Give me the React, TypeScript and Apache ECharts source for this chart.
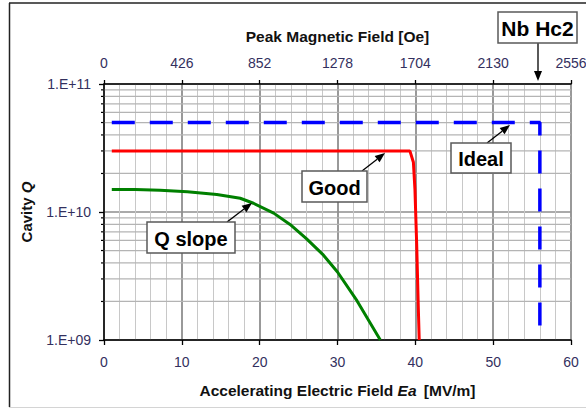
import React, { useEffect, useRef } from "react";
import * as echarts from "echarts";

// ---- data ----
const idealX = [1, 56, 56];
const idealQ = [5e10, 5e10, 1e9];

const goodX = [1, 39.3, 39.75, 39.95, 40.17, 40.38, 40.5];
const goodQ = [3e10, 3e10, 2.45e10, 1.5e10, 5.7e9, 1.8e9, 1e9];

const slopeX = [1, 4, 7.2, 10.7, 14.5, 17.5, 19.2, 21.8, 23.9, 26, 28.2, 30, 32.5, 35.5];
const slopeQ = [1.5e10, 1.5e10, 1.48e10, 1.44e10, 1.37e10, 1.28e10, 1.17e10, 9.8e9, 8.0e9, 6.2e9, 4.6e9, 3.4e9, 2.03e9, 1e9];

const minorQ = [2e9, 3e9, 4e9, 5e9, 6e9, 7e9, 8e9, 9e9, 2e10, 3e10, 4e10, 5e10, 6e10, 7e10, 8e10, 9e10];

const eaMin = 0;
const eaMax = 60;
const eaStep = 10;
const hMin = 0;
const hMax = 2556;
const hStep = 426;
const qMin = 1e9;
const qMax = 1e11;

const FONT = '"Liberation Sans", Arial, sans-serif';

type Ann = { text: string; box: number[]; from: number[]; to: number[]; size: number };
const annotations: Ann[] = [
  { text: "Nb Hc2", box: [498, 12, 79, 31], from: [538, 43], to: [538, 81], size: 21 },
  { text: "Ideal", box: [451, 143, 60, 30], from: [487, 143], to: [510, 125], size: 20 },
  { text: "Good", box: [302, 171, 65, 31], from: [362, 171], to: [385, 153], size: 20 },
  { text: "Q slope", box: [147, 222, 88, 31], from: [227, 222], to: [252, 203], size: 20 },
];

function pairs(xs: number[], ys: number[]) {
  return xs.map((x, i) => [x, ys[i]]);
}

function annGraphics() {
  const els: any[] = [];
  annotations.forEach((a) => {
    const [bx, by, bw, bh] = a.box;
    const [x1, y1] = a.from;
    const [x2, y2] = a.to;
    const dx = x2 - x1;
    const dy = y2 - y1;
    const len = Math.sqrt(dx * dx + dy * dy);
    const ux = dx / len;
    const uy = dy / len;
    const hl = 10;
    const hw = 4;
    const bxp = x2 - ux * hl;
    const byp = y2 - uy * hl;
    els.push({
      type: "line",
      z: 100,
      shape: { x1, y1, x2: bxp, y2: byp },
      style: { stroke: "#000", lineWidth: 1.3 },
    });
    els.push({
      type: "polygon",
      z: 100,
      shape: {
        points: [
          [x2, y2],
          [bxp - uy * hw, byp + ux * hw],
          [bxp + uy * hw, byp - ux * hw],
        ],
      },
      style: { fill: "#000" },
    });
    els.push({
      type: "rect",
      z: 101,
      shape: { x: bx, y: by, width: bw, height: bh },
      style: { fill: "#fff", stroke: "#5a5a5a", lineWidth: 1.5 },
    });
    els.push({
      type: "text",
      z: 102,
      style: {
        text: a.text,
        x: bx + bw / 2,
        y: by + bh / 2 + 1,
        align: "center",
        verticalAlign: "middle",
        fontSize: a.size,
        fontWeight: "bold",
        fontFamily: FONT,
        fill: "#000",
      },
    });
  });
  return els;
}

export default function App() {
  const ref = useRef<HTMLDivElement>(null);

  useEffect(() => {
    if (!ref.current) return;
    const chart = echarts.init(ref.current, null, { renderer: "svg" });
    const labelColor = "#33305e";
    const option: any = {
      animation: false,
      backgroundColor: "#fff",
      grid: {
        left: 104,
        top: 84,
        width: 467,
        height: 256,
        containLabel: false,
        outerBoundsMode: "none",
      },
      xAxis: [
        {
          type: "value",
          position: "bottom",
          min: eaMin,
          max: eaMax,
          interval: eaStep,
          axisLine: { show: true, onZero: false, lineStyle: { color: "#000", width: 1.5 } },
          axisTick: { show: true, inside: false, length: 5, lineStyle: { color: "#000", width: 1.3 } },
          axisLabel: { color: labelColor, fontSize: 14, fontFamily: FONT, margin: 15 },
          splitLine: { show: true, lineStyle: { color: "#8e8e8e", width: 1.8 } },
          minorTick: { show: false, splitNumber: 5 },
          minorSplitLine: { show: true, lineStyle: { color: "#c8c8c8", width: 1 } },
          name: "Accelerating Electric Field {i|Ea} {n|[MV/m]}",
          nameLocation: "middle",
          nameGap: 42,
          nameTextStyle: {
            color: "#111",
            fontSize: 15.5,
            fontWeight: "bold",
            fontFamily: FONT,
            verticalAlign: "top",
            rich: {
              i: { fontSize: 15.5, fontWeight: "bold", fontStyle: "italic", fontFamily: FONT, color: "#111" },
              n: { fontSize: 15.5, fontWeight: "bold", fontFamily: FONT, color: "#111", padding: [0, 0, 0, 3] },
            },
          },
        },
        {
          type: "value",
          position: "top",
          min: hMin,
          max: hMax,
          interval: hStep,
          axisLine: { show: true, onZero: false, lineStyle: { color: "#000", width: 1.5 } },
          axisTick: { show: true, inside: false, length: 4, lineStyle: { color: "#000", width: 1.3 } },
          axisLabel: {
            color: labelColor,
            fontSize: 14,
            fontFamily: FONT,
            margin: 14,
            formatter: (v: number) => String(Math.round(v)),
          },
          splitLine: { show: false },
          name: "Peak Magnetic Field [Oe]",
          nameLocation: "middle",
          nameGap: 40,
          nameTextStyle: { color: "#111", fontSize: 15.5, fontWeight: "bold", fontFamily: FONT },
        },
      ],
      yAxis: {
        type: "log",
        logBase: 10,
        min: qMin,
        max: qMax,
        axisLine: { show: true, onZero: false, lineStyle: { color: "#000", width: 1.5 } },
        axisTick: { show: true, inside: false, length: 5, lineStyle: { color: "#000", width: 1.3 } },
        axisLabel: {
          color: labelColor,
          fontSize: 14,
          fontFamily: FONT,
          margin: 13,
          formatter: (v: number) => {
            const e = Math.round(Math.log10(v));
            return "1.E+" + (e < 10 ? "0" + e : String(e));
          },
        },
        splitLine: { show: true, lineStyle: { color: "#8e8e8e", width: 1.5 } },
        minorTick: { show: false },
        minorSplitLine: { show: false },
        name: "Cavity {i|Q}",
        nameLocation: "middle",
        nameGap: 70,
        nameTextStyle: {
          color: "#111",
          fontSize: 15,
          fontWeight: "bold",
          fontFamily: FONT,
          rich: {
            i: { fontSize: 15, fontWeight: "bold", fontStyle: "italic", fontFamily: FONT, color: "#111" },
          },
        },
      },
      graphic: [
        { type: "line", z: 100, shape: { x1: 9, y1: 3, x2: 586, y2: 3 }, style: { stroke: "#222", lineWidth: 1.5 } },
        { type: "line", z: 100, shape: { x1: 9.5, y1: 3, x2: 9.5, y2: 407 }, style: { stroke: "#222", lineWidth: 1.5 } },
        { type: "line", z: 100, shape: { x1: 9, y1: 407.5, x2: 586, y2: 407.5 }, style: { stroke: "#d4d4d4", lineWidth: 1 } },
        ...annGraphics(),
      ],
      series: [
        {
          type: "custom",
          name: "minorGrid",
          xAxisIndex: 0,
          yAxisIndex: 0,
          z: 1,
          clip: false,
          silent: true,
          data: minorQ.map((q) => [eaMin, q]),
          renderItem: (params: any, api: any) => {
            const q = api.value(1);
            const p1 = api.coord([eaMin, q]);
            const p2 = api.coord([eaMax, q]);
            return {
              type: "group",
              children: [
                {
                  type: "line",
                  shape: { x1: p1[0] - 3, y1: p1[1], x2: p1[0] - 0.8, y2: p1[1] },
                  style: { stroke: "#000", lineWidth: 1.2 },
                },
                {
                  type: "line",
                  shape: { x1: p1[0] + 0.8, y1: p1[1], x2: p2[0], y2: p2[1] },
                  style: { stroke: "#b4b4b4", lineWidth: 1.2 },
                },
              ],
            };
          },
        },
        {
          type: "line",
          name: "Ideal",
          xAxisIndex: 0,
          yAxisIndex: 0,
          z: 3,
          data: pairs(idealX, idealQ),
          showSymbol: false,
          symbol: "none",
          lineStyle: { color: "#0000ff", width: 3.5, type: [23, 15] },
        },
        {
          type: "line",
          name: "Good",
          xAxisIndex: 0,
          yAxisIndex: 0,
          z: 3,
          data: pairs(goodX, goodQ),
          showSymbol: false,
          symbol: "none",
          lineStyle: { color: "#ff0000", width: 3 },
        },
        {
          type: "line",
          name: "Q slope",
          xAxisIndex: 0,
          yAxisIndex: 0,
          z: 3,
          data: pairs(slopeX, slopeQ),
          showSymbol: false,
          symbol: "none",
          lineStyle: { color: "#008000", width: 3 },
        },
      ],
    };
    chart.setOption(option);
    return () => chart.dispose();
  }, []);

  return (
    <div
      ref={ref}
      style={{ position: "absolute", left: 0, top: 0, width: 586, height: 410, background: "#fff" }}
    />
  );
}
